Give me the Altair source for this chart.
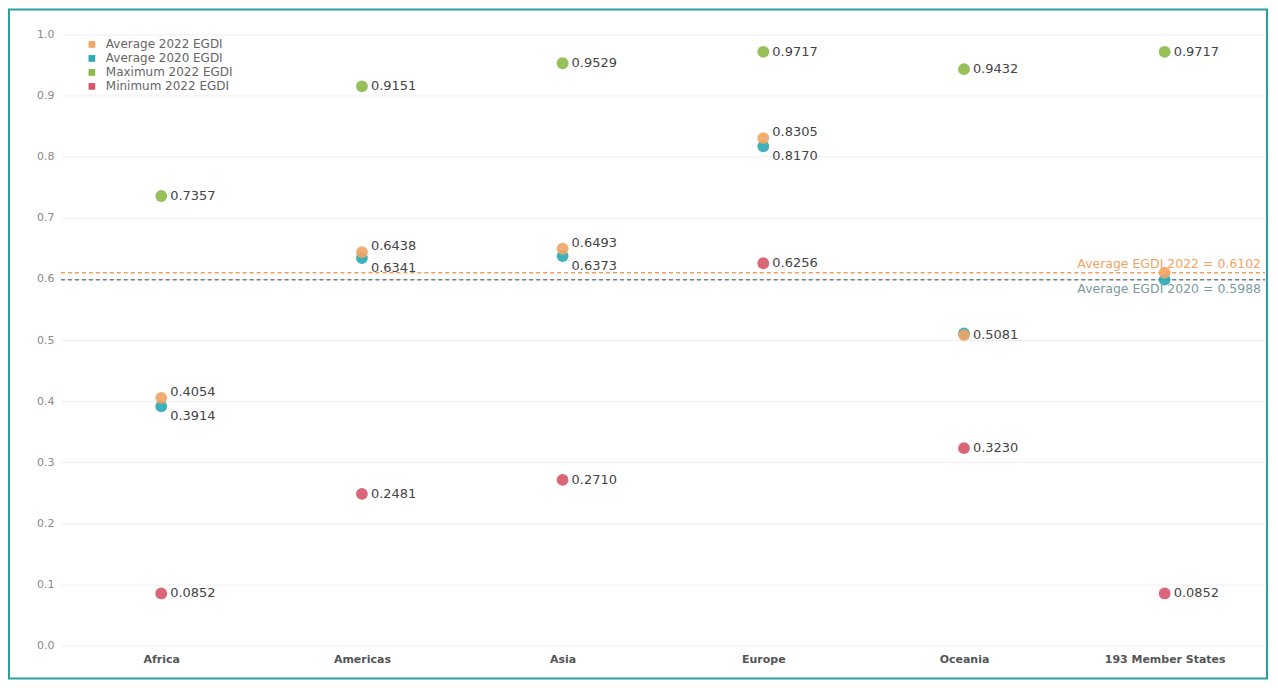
import altair as alt
import pandas as pd

regions = ["Africa", "Americas", "Asia", "Europe", "Oceania", "193 Member States"]
avg2022 = [0.4054, 0.6438, 0.6493, 0.8305, 0.5081, 0.6102]
avg2020 = [0.3914, 0.6341, 0.6373, 0.8170, 0.5107, 0.5988]
max2022 = [0.7357, 0.9151, 0.9529, 0.9717, 0.9432, 0.9717]
min2022 = [0.0852, 0.2481, 0.2710, 0.6256, 0.3230, 0.0852]
# label placement for the average values: "above", "below", "center" or "" (no label)
avg2022_pos = ["above", "above", "above", "above", "center", ""]
avg2020_pos = ["below", "below", "below", "below", "", ""]

series = ["Average 2022 EGDI", "Average 2020 EGDI", "Maximum 2022 EGDI", "Minimum 2022 EGDI"]
colors = ["#F2A463", "#2AA8B4", "#8CB946", "#D75569"]

ref_values = [0.6102, 0.5988]
ref_labels = ["Average EGDI 2022 = 0.6102", "Average EGDI 2020 = 0.5988"]

rows = []
for i, r in enumerate(regions):
    rows.append(dict(region=r, series="Maximum 2022 EGDI", value=max2022[i], pos="center", order=0))
    rows.append(dict(region=r, series="Minimum 2022 EGDI", value=min2022[i], pos="center", order=1))
    rows.append(dict(region=r, series="Average 2020 EGDI", value=avg2020[i], pos=avg2020_pos[i], order=2))
    rows.append(dict(region=r, series="Average 2022 EGDI", value=avg2022[i], pos=avg2022_pos[i], order=3))
df = pd.DataFrame(rows)
df["label"] = df["value"].map(lambda v: f"{v:.4f}")

ref_df = pd.DataFrame({"value": ref_values, "label": ref_labels,
                       "kind": ["2022", "2020"]})

W, H = 1206, 612
FONT = "DejaVu Sans"

x_enc = alt.X("region:N", sort=regions, title=None,
              scale=alt.Scale(paddingInner=0, paddingOuter=0),
              axis=alt.Axis(labelAngle=0, ticks=False, domain=False, grid=False, labelColor="#555",
                            labelFontSize=11, labelFontWeight="bold", labelFont=FONT,
                            labelPadding=8))
y_enc = alt.Y("value:Q", title=None, scale=alt.Scale(domain=[0, 1], nice=False),
              axis=alt.Axis(values=[0, 0.1, 0.2, 0.3, 0.4, 0.5, 0.6, 0.7, 0.8, 0.9, 1.0],
                            format=".1f", ticks=False, domain=False, labelColor="#8a8a8a",
                            labelFontSize=11, labelFont=FONT, gridColor="#EEEEEE",
                            labelPadding=7))

frame = alt.Chart(pd.DataFrame({"a": [1]})).mark_rect(
    filled=False, stroke="#2A9FA3", strokeWidth=2
).encode(x=alt.value(-52), x2=alt.value(W + 2), y=alt.value(-25), y2=alt.value(H + 33))

ref_line_22 = alt.Chart(ref_df[ref_df.kind == "2022"]).mark_rule(
    strokeDash=[4, 3], strokeWidth=1.5, color="#F0A05A"
).encode(y=alt.Y("value:Q"), x=alt.value(0), x2=alt.value(W))
ref_line_20 = alt.Chart(ref_df[ref_df.kind == "2020"]).mark_rule(
    strokeDash=[4, 3], strokeWidth=1.5, color="#6E7F88"
).encode(y=alt.Y("value:Q"), x=alt.value(0), x2=alt.value(W))
ref_text_22 = alt.Chart(ref_df[ref_df.kind == "2022"]).mark_text(
    align="right", baseline="bottom", dy=-2, fontSize=12.5, font=FONT, color="#F2A463"
).encode(y="value:Q", x=alt.value(W - 4), text="label:N")
ref_text_20 = alt.Chart(ref_df[ref_df.kind == "2020"]).mark_text(
    align="right", baseline="top", dy=3, fontSize=12.5, font=FONT, color="#7C9A9E"
).encode(y="value:Q", x=alt.value(W - 4), text="label:N")

points = alt.Chart(df).mark_circle(size=140, opacity=0.9).encode(
    x=x_enc, y=y_enc,
    color=alt.Color("series:N", scale=alt.Scale(domain=series, range=colors),
                    legend=alt.Legend(title=None, orient="none", legendX=25, legendY=4,
                                      symbolType="square", symbolSize=45, labelFontSize=12,
                                      labelFont=FONT, labelColor="#666", rowPadding=2,
                                      labelOffset=8, padding=0, symbolOpacity=1)),
    order=alt.Order("order:Q"),
)

def labels(pos, dy):
    return alt.Chart(df).transform_filter(alt.datum.pos == pos).mark_text(
        align="left", baseline="middle", dx=9, dy=dy, fontSize=13, font=FONT, color="#444"
    ).encode(x=alt.X("region:N", sort=regions), y="value:Q", text="label:N")

chart = alt.layer(
    frame, ref_line_22, ref_line_20, points, ref_text_22, ref_text_20,
    labels("center", 0), labels("above", -6), labels("below", 10),
).properties(
    width=W, height=H, background="white",
    padding={"left": 53, "top": 26, "right": 5, "bottom": 34},
    autosize=alt.AutoSizeParams(type="none"),
).configure_view(
    stroke="transparent", strokeWidth=0
).configure_axisX(
    grid=False, domain=False, ticks=False
).configure_axisY(
    domain=False, ticks=False
)

chart.save("out.html", embed_options={"renderer": "svg", "actions": False})
